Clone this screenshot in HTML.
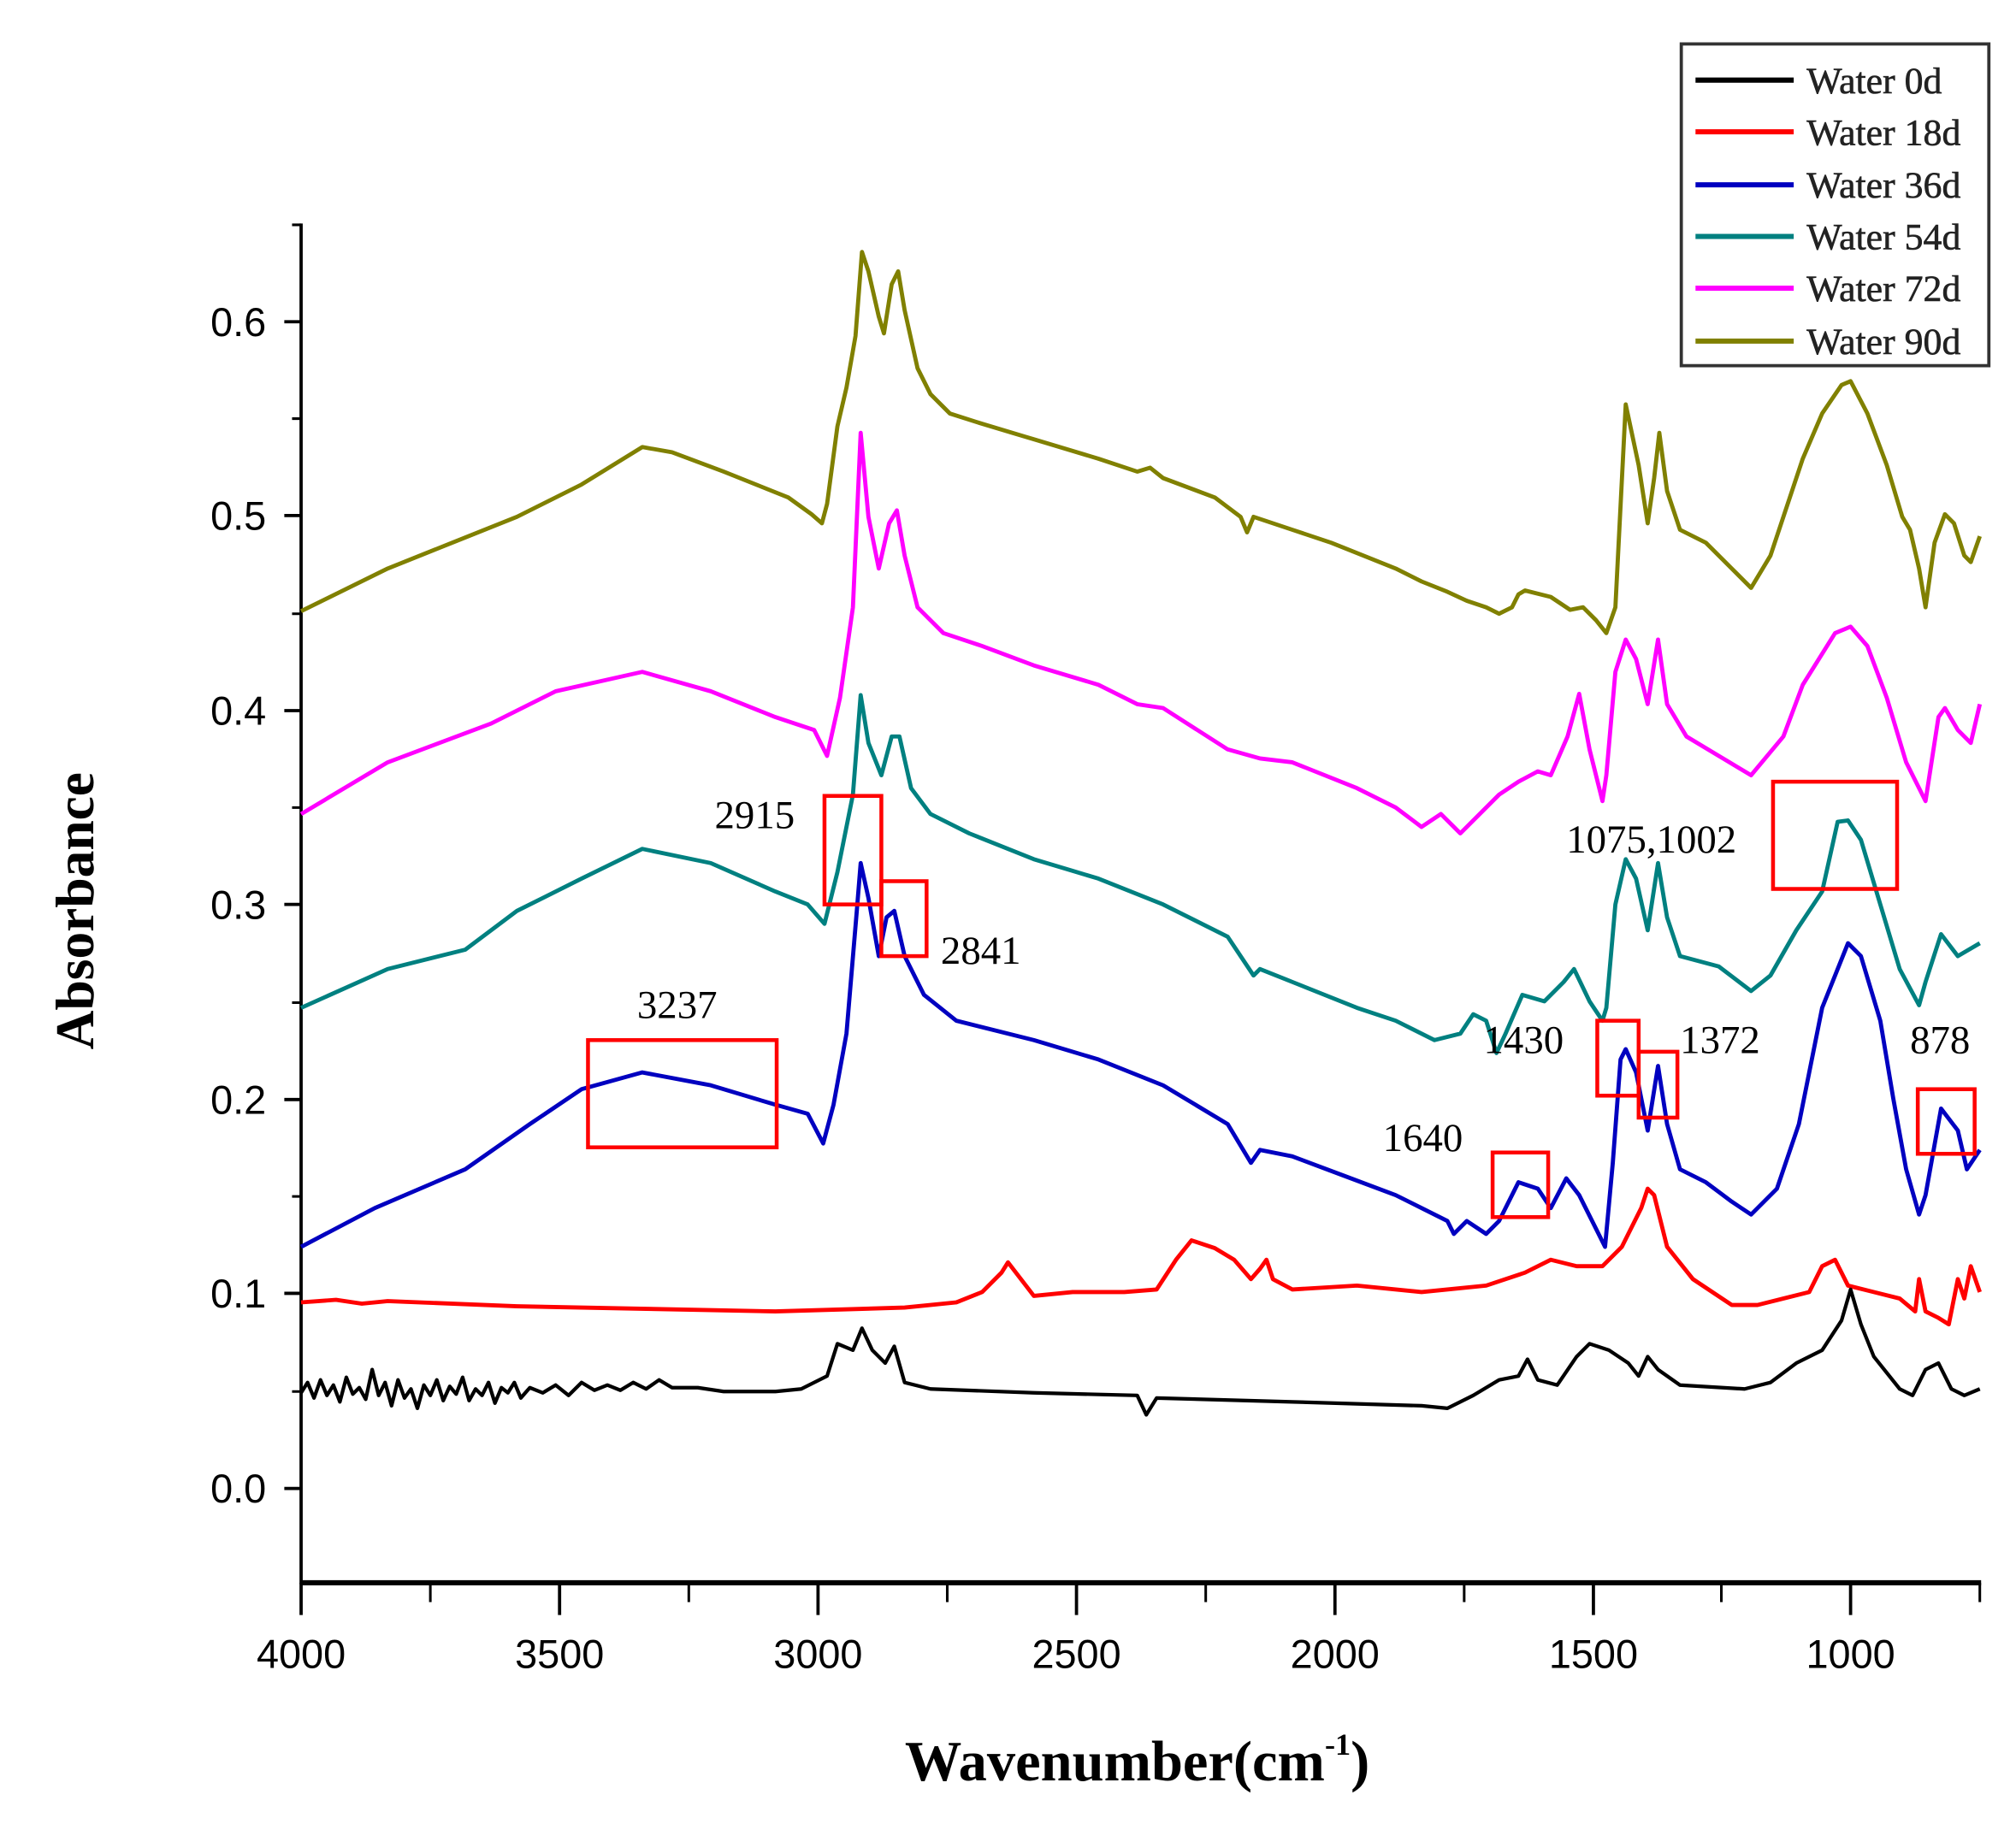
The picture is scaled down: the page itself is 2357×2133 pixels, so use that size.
<!DOCTYPE html>
<html><head><meta charset="utf-8"><style>html,body{margin:0;padding:0;background:#fff}svg{display:block}</style></head>
<body>
<svg width="2357" height="2133" viewBox="0 0 1560 1411.7" xmlns="http://www.w3.org/2000/svg">
<rect width="1560" height="1412" fill="#fff"/>
<g stroke="#000" stroke-width="2.5" fill="none">
<line x1="233" y1="173" x2="233" y2="1226"/>
<line x1="232" y1="1225" x2="1533" y2="1225" stroke-width="4"/>
<path d="M220 249H233M220 399H233M220 550H233M220 700H233M220 851H233M220 1001H233M220 1152H233"/>
<path d="M226 174H233M226 324H233M226 475H233M226 625H233M226 776H233M226 926H233M226 1077H233" stroke-width="2"/>
<path d="M233 1225V1250M433 1225V1250M633 1225V1250M833 1225V1250M1033 1225V1250M1233 1225V1250M1432 1225V1250"/>
<path d="M333 1225V1240M533 1225V1240M733 1225V1240M933 1225V1240M1133 1225V1240M1332 1225V1240M1532 1225V1240" stroke-width="2"/>
</g>
<g font-family="Liberation Sans, sans-serif" font-size="31" fill="#000" text-anchor="end">
<text x="206" y="260">0.6</text><text x="206" y="410">0.5</text><text x="206" y="561">0.4</text>
<text x="206" y="711">0.3</text><text x="206" y="862">0.2</text><text x="206" y="1012">0.1</text><text x="206" y="1163">0.0</text>
</g>
<g font-family="Liberation Sans, sans-serif" font-size="31" fill="#000" text-anchor="middle">
<text x="233" y="1291">4000</text><text x="433" y="1291">3500</text><text x="633" y="1291">3000</text>
<text x="833" y="1291">2500</text><text x="1033" y="1291">2000</text><text x="1233" y="1291">1500</text><text x="1432" y="1291">1000</text>
</g>
<text x="880" y="1378" font-family="Liberation Serif, serif" font-weight="bold" font-size="44" text-anchor="middle">Wavenumber(cm<tspan font-size="24" dy="-20">-1</tspan><tspan dy="20">)</tspan></text>
<text transform="translate(72,705) rotate(-90)" font-family="Liberation Serif, serif" font-weight="bold" font-size="42" text-anchor="middle">Absorbance</text>

<g fill="none" stroke-width="3.2" stroke-linejoin="round">
<polyline stroke="#808000" points="233,473 300,440 400,400 450,375 497,346 520,350 560,365 610,385 628,398 636,405 640,390 648,330 655,300 662,260 667,195 672,210 680,245 684,258 690,220 695,210 700,240 710,285 720,305 735,320 760,328 800,340 850,355 880,365 890,362 900,370 940,385 960,400 965,412 970,400 1000,410 1030,420 1060,432 1080,440 1100,450 1120,458 1135,465 1150,470 1160,475 1170,470 1175,460 1180,457 1200,462 1215,472 1225,470 1235,480 1243,490 1250,470 1258,313 1268,360 1275,405 1280,370 1284,335 1290,380 1300,410 1320,420 1340,440 1355,455 1370,430 1380,400 1395,355 1410,320 1425,298 1432,295 1445,320 1460,360 1472,400 1478,410 1485,440 1490,470 1497,420 1505,398 1512,405 1520,430 1525,435 1532,415"/>
<polyline stroke="#ff00ff" points="233,630 300,590 380,560 430,535 497,520 550,535 600,555 630,565 640,585 650,540 660,470 666,335 672,400 680,440 688,405 694,395 700,430 710,470 730,490 760,500 800,515 850,530 880,545 900,548 950,580 975,587 1000,590 1050,610 1080,625 1100,640 1115,630 1125,640 1130,645 1160,615 1175,605 1190,597 1200,600 1213,570 1222,537 1230,580 1240,620 1243,600 1250,520 1258,495 1266,510 1275,545 1283,495 1290,545 1305,570 1330,585 1355,600 1380,570 1395,530 1420,490 1432,485 1445,500 1460,540 1475,590 1480,600 1490,620 1500,555 1505,548 1515,565 1525,575 1532,545"/>
<polyline stroke="#008080" points="233,780 300,750 360,735 400,705 450,680 497,657 550,668 600,690 625,700 638,715 648,675 660,615 666,538 672,575 682,600 690,570 696,570 705,610 720,630 750,645 800,665 850,680 900,700 950,725 970,755 975,750 1000,760 1050,780 1080,790 1110,805 1130,800 1140,785 1150,790 1158,815 1165,800 1178,770 1195,775 1210,760 1218,750 1230,775 1240,790 1243,780 1250,700 1258,665 1266,680 1275,720 1283,668 1290,710 1300,740 1330,748 1355,767 1370,755 1390,720 1410,690 1422,636 1430,635 1440,650 1455,700 1470,750 1485,778 1490,760 1502,723 1515,740 1532,730"/>
<polyline stroke="#0000c0" points="233,965 290,935 360,905 410,870 450,843 497,830 550,840 600,855 625,862 637,885 645,855 655,800 663,705 666,668 672,695 680,740 686,710 692,705 700,740 715,770 740,790 800,805 850,820 900,840 950,870 968,900 975,890 1000,895 1040,910 1080,925 1100,935 1120,945 1125,955 1135,945 1150,955 1160,945 1175,915 1190,920 1200,935 1212,912 1222,925 1232,945 1242,965 1248,900 1254,820 1258,812 1266,830 1275,875 1283,825 1290,870 1300,905 1320,915 1340,930 1355,940 1375,920 1392,870 1410,780 1430,730 1440,740 1455,790 1465,850 1475,905 1485,940 1490,925 1502,858 1515,875 1522,905 1532,890"/>
<polyline stroke="#ff0000" points="233,1008 260,1006 280,1009 300,1007 400,1011 500,1013 600,1015 700,1012 740,1008 760,1000 775,985 780,977 790,990 800,1003 830,1000 870,1000 895,998 910,975 922,960 940,966 955,975 968,990 975,982 980,975 985,990 1000,998 1050,995 1100,1000 1150,995 1180,985 1200,975 1220,980 1240,980 1255,965 1270,935 1275,920 1280,925 1290,965 1310,990 1340,1010 1360,1010 1380,1005 1400,1000 1410,980 1420,975 1430,995 1450,1000 1470,1005 1482,1015 1485,990 1490,1015 1500,1020 1508,1025 1515,990 1520,1005 1525,980 1532,1000"/>
<polyline stroke="#000" stroke-width="2.8" points="233,1078 238,1070 243,1082 248,1068 253,1080 258,1072 263,1085 268,1066 273,1079 278,1074 283,1083 288,1060 293,1080 298,1070 303,1088 308,1068 313,1082 318,1075 323,1090 328,1072 333,1080 338,1068 343,1084 348,1073 353,1079 358,1066 363,1084 368,1075 373,1080 378,1070 383,1086 388,1074 393,1078 398,1070 403,1082 410,1074 420,1078 430,1072 440,1080 450,1070 460,1076 470,1072 480,1076 490,1070 500,1075 510,1068 520,1074 540,1074 560,1077 600,1077 620,1075 640,1065 648,1040 660,1045 667,1028 675,1045 685,1055 692,1042 700,1070 720,1075 800,1078 880,1080 887,1095 895,1082 1000,1085 1100,1088 1120,1090 1140,1080 1160,1068 1175,1065 1182,1052 1190,1068 1205,1072 1220,1050 1230,1040 1245,1045 1260,1055 1268,1065 1275,1050 1283,1060 1300,1072 1350,1075 1370,1070 1390,1055 1410,1045 1425,1022 1432,998 1440,1025 1450,1050 1470,1075 1480,1080 1490,1060 1500,1055 1510,1075 1520,1080 1532,1075"/>
</g>

<g fill="none" stroke="#ff0000" stroke-width="3">
<rect x="455" y="805" width="146" height="83"/>
<rect x="638" y="616" width="44" height="84"/>
<rect x="682" y="682" width="35" height="58"/>
<rect x="1155" y="892" width="43" height="50"/>
<rect x="1236" y="790" width="32" height="58"/>
<rect x="1268" y="814" width="30" height="51"/>
<rect x="1484" y="843" width="44" height="50"/>
<rect x="1372" y="605" width="96" height="83"/>
</g>
<g font-family="Liberation Serif, serif" font-size="31" fill="#000">
<text x="493" y="788">3237</text>
<text x="553" y="641">2915</text>
<text x="728" y="746">2841</text>
<text x="1070" y="891">1640</text>
<text x="1148" y="815">1430</text>
<text x="1300" y="815">1372</text>
<text x="1478" y="815">878</text>
<text x="1212" y="660">1075,1002</text>
</g>

<rect x="1301" y="34" width="238" height="249" fill="#fff" stroke="#333" stroke-width="2.5"/>
<g stroke-width="4">
<line x1="1312" y1="62" x2="1388" y2="62" stroke="#000"/>
<line x1="1312" y1="102" x2="1388" y2="102" stroke="#ff0000"/>
<line x1="1312" y1="143" x2="1388" y2="143" stroke="#0000c0"/>
<line x1="1312" y1="183" x2="1388" y2="183" stroke="#008080"/>
<line x1="1312" y1="223" x2="1388" y2="223" stroke="#ff00ff"/>
<line x1="1312" y1="264" x2="1388" y2="264" stroke="#808000"/>
</g>
<g font-family="Liberation Serif, serif" font-size="29" fill="#222" stroke="#222" stroke-width="0.4">
<text x="1398" y="72">Water 0d</text>
<text x="1398" y="112">Water 18d</text>
<text x="1398" y="153">Water 36d</text>
<text x="1398" y="193">Water 54d</text>
<text x="1398" y="233">Water 72d</text>
<text x="1398" y="274">Water 90d</text>
</g>
</svg>
</body></html>
